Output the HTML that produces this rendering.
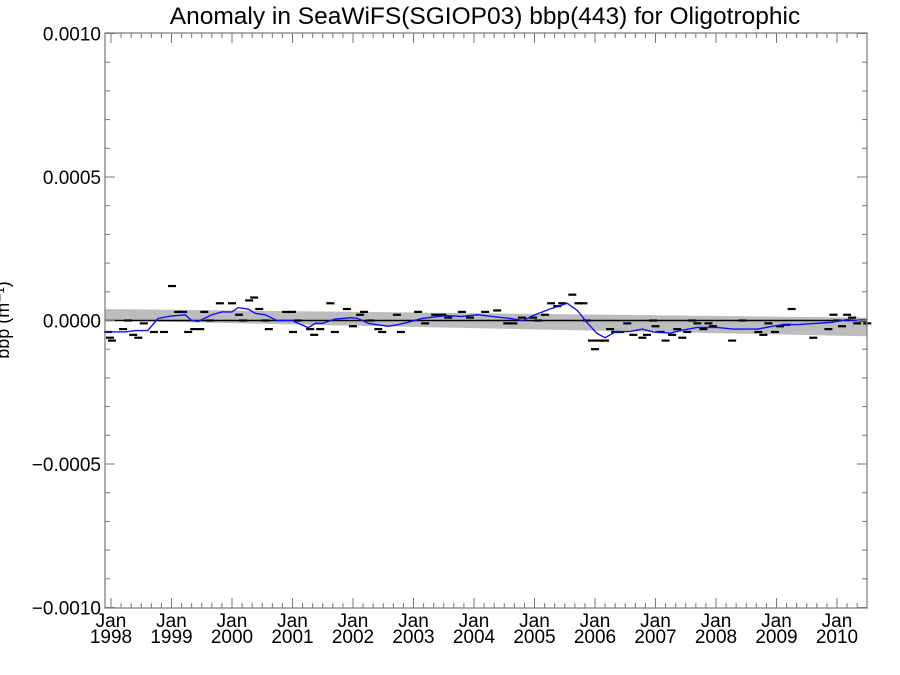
<!DOCTYPE html>
<html><head><meta charset="utf-8"><style>
body{margin:0;background:#fff}
svg{display:block;font-family:"Liberation Sans",sans-serif}
</style></head><body>
<svg id="chart" width="900" height="675" viewBox="0 0 900 675" xmlns="http://www.w3.org/2000/svg">
<rect width="900" height="675" fill="#fff"/>
<text x="485" y="24" font-size="24.5" text-anchor="middle" fill="#000">Anomaly in SeaWiFS(SGIOP03) bbp(443) for Oligotrophic</text>
<text transform="translate(9,320) rotate(-90)" font-size="18" text-anchor="middle" fill="#000">bbp (m⁻¹)</text>
<g id="band"></g><g id="zero"></g><g id="pts"></g><g id="line"></g><g id="axes"></g>
</svg>
<script>
// anomaly points: month index since Jan 1998, value in units of 1e-5
const scatterMonths = [-0.6,-0.2,0.2,2.4,3.4,4.4,5.4,6.5,8.5,10.5,12.1,13.3,14.3,15.3,16.5,17.7,18.5,19.6,21.6,24,25.4,26.2,27.4,28.4,29.4,30.6,31.3,34.7,35.9,36.1,37.1,39.5,40.3,41.5,43.5,44.4,46.8,48,49.4,50.2,51.4,53,53.8,56.7,57.5,60.9,62.3,64.3,65.7,66.9,69.6,71.2,74.2,76.6,78.6,79.8,81.5,83.7,84.7,86.1,87.3,88.5,89.5,91.5,92.7,93.7,94.4,95.4,96,97,98,99,100,101,102.4,103.6,105.4,106.3,107.5,108,109,110,111.3,112.3,113.3,114.3,115.3,116.3,117.5,118.5,119.4,123.2,125.2,128.4,129.4,130.4,131.7,132.7,134,135,139.3,142.3,143.3,144,145,146,147,148,149,150];
const scatterValues = [-4,-6,-7,-3,0,-5,-6,-1,-4,-4,12,3,3,-4,-3,-3,3,0,6,6,2,0,7,8,4,0,-3,3,3,-4,0,-3,-5,-3,6,-4,4,-2,2,3,0,-3,-4,2,-4,3,-1,2,2,1,3,1,3,3.5,-1,-1,1,1,0,2,6,5,6,9,6,6,0,-7,-10,-7,-7,-3,-4,-4,-1,-5,-6,-5,0,-2,-4,-7,-5,-3,-6,-4,0,-1,-3,-1,-2,-7,0,-4,-5,-1,-4,-2,-1.5,4,-6,-3,2,0,-2,2,1,-1,0,-1];
// smoothed series
const smoothMonths = [-1.2,2.8,4.8,7.3,9.3,11.7,14.7,16,17.3,20,22,24,25.2,27.2,28.6,30.6,32.9,35.9,39.1,40.5,41.9,44.4,47.8,49,51,53,55,57,58.7,61.7,66.3,69.6,72.8,75.6,79.2,81.7,84.1,87.1,90.5,92.5,94.4,96.4,98,100,103,105.4,107.5,110.9,112.9,116.3,120.2,123.4,128.2,131.3,133.3,136.1,142.6,146,148,150];
const smoothValues = [-4,-4,-3.5,-3.5,0.7,1.5,2,0,-0.3,2,3,3,4.5,4,2.5,2,0,0,-2.5,-1,-1,0.5,1,0.7,-1,-1.5,-2,-1.4,-0.7,0.7,1.7,1.4,2,1.4,0.7,0,2,4,6,3.5,-0.7,-4.5,-6,-4,-3.8,-3,-4,-4.4,-3.5,-2.4,-2.4,-3,-3,-2,-1.4,-1.4,-0.7,0.3,0,-0.3];
const yTickVals = [0.0010,0.0005,0,-0.0005,-0.0010];
const yTickLabels = ["0.0010","0.0005","0.0000","\u22120.0005","\u22120.0010"];
const xYears = [1998,1999,2000,2001,2002,2003,2004,2005,2006,2007,2008,2009,2010];
const bandLeft = [4,0];
const bandRight = [1,-5.5];

const L=105,R=867,T=33,B=608;
const X0=111, PX_PER_MONTH=60.5/12;
function xM(m){return X0+m*PX_PER_MONTH;}
function yV(v){return 320.5-v*287000;}
function y5(v){return yV(v*1e-5);}
const NS="http://www.w3.org/2000/svg";
function mk(tag,parent,attrs){const e=document.createElementNS(NS,tag);for(const k in attrs)e.setAttribute(k,attrs[k]);document.getElementById(parent).appendChild(e);return e;}

const mL=(L-X0)/PX_PER_MONTH, mR=(R-X0)/PX_PER_MONTH;
const band=mk('polygon','band',{points:`${xM(mL)},${y5(bandLeft[0])} ${xM(mR)},${y5(bandRight[0])} ${xM(mR)},${y5(bandRight[1])} ${xM(mL)},${y5(bandLeft[1])}`,fill:'#bdbdbd'});


const z=mk('line','zero',{x1:L,x2:R,y1:yV(0),y2:yV(0),stroke:'#000','stroke-width':1.5});



scatterValues.forEach((v,i)=>{
  const x=xM(scatterMonths[i]);
  const d=mk('line','pts',{x1:x-4,x2:x+4,y1:y5(v),y2:y5(v),stroke:'#000','stroke-width':2.2});
  
  
});
const pl=mk('polyline','line',{points:smoothMonths.map((m,i)=>xM(m)+','+y5(smoothValues[i])).join(' '),fill:'none',stroke:'#1010ff','stroke-width':1.4});



const frame=mk('rect','axes',{x:L,y:T,width:R-L,height:B-T,fill:'none',stroke:'#777','stroke-width':1.2});


for(let k=-10;k<=10;k++){
  const y=yV(k*0.0001), len=(k%5===0)?10:5;
  mk('line','axes',{x1:L,x2:L+len,y1:y,y2:y,stroke:'#777','stroke-width':1});
  mk('line','axes',{x1:R,x2:R-len,y1:y,y2:y,stroke:'#777','stroke-width':1});
}
yTickVals.forEach((v,i)=>{
  const t=mk('text','axes',{x:L-4,y:yV(v)+7,'font-size':19,'text-anchor':'end',fill:'#000'});
  t.textContent=yTickLabels[i];
  
  
});
for(let m=-2;m<=150;m+=2){
  const x=xM(m); if(x<L||x>R)continue;
  const len=(m%12===0)?10:5;
  mk('line','axes',{x1:x,x2:x,y1:B,y2:B-len,stroke:'#777','stroke-width':1});
  mk('line','axes',{x1:x,x2:x,y1:T,y2:T+len,stroke:'#777','stroke-width':1});
}
xYears.forEach(yr=>{
  const x=xM((yr-1998)*12);
  const t=mk('text','axes',{x:x,y:627,'font-size':19,'text-anchor':'middle',fill:'#000'});
  t.textContent='Jan';
  
  
  const t2=mk('text','axes',{x:x,y:643,'font-size':19,'text-anchor':'middle',fill:'#000'});
  t2.textContent=String(yr);
  
  
});
</script>
</body></html>
